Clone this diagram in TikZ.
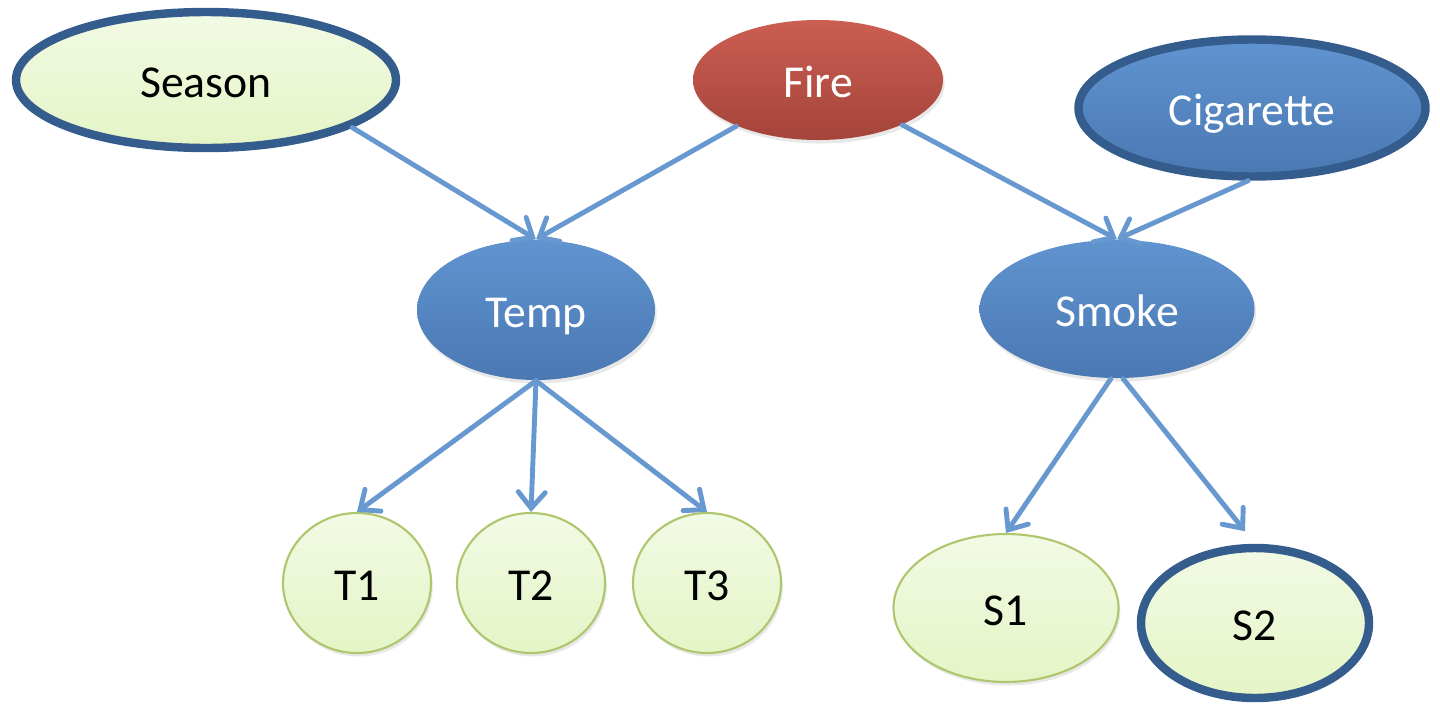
\documentclass[tikz,border=0pt]{standalone}
\usepackage{fontspec}
\setmainfont{Carlito}
\usetikzlibrary{shapes.geometric,arrows.meta,shadows}
\definecolor{leafA}{RGB}{242,250,228}
\definecolor{leafB}{RGB}{228,245,198}
\definecolor{leafline}{RGB}{175,198,110}
\definecolor{blueA}{RGB}{96,148,208}
\definecolor{blueB}{RGB}{74,120,178}
\definecolor{ringblue}{RGB}{52,92,140}
\definecolor{redA}{RGB}{204,94,82}
\definecolor{redB}{RGB}{164,68,58}
\definecolor{edgeblue}{RGB}{104,152,208}
\tikzset{
  var/.style={ellipse, inner sep=0pt, font=\fontsize{13}{15}\selectfont, text height=10pt, text depth=0pt,
    drop shadow={opacity=0.18, shadow xshift=0.5pt, shadow yshift=-1pt}},
  leaf/.style={var, draw=leafline, line width=0.6pt, top color=leafA, bottom color=leafB},
  hidden/.style={var, draw=none, top color=blueA, bottom color=blueB, text=white},
  fire/.style={var, draw=none, top color=redA, bottom color=redB, text=white},
  known/.style={line width=2.4pt, draw=ringblue},
  link/.style={edgeblue, line width=1.4pt, line cap=round,
    -{Straight Barb[length=0.16cm,width=0.27cm,line cap=round]}}
}
\begin{document}
\begin{tikzpicture}
        \useasboundingbox (0,0) rectangle (14.4,-7.04);
        \node[leaf, known, minimum width=3.80cm, minimum height=1.36cm] (season) at (2.06,-0.80) {Season};
        \node[fire, minimum width=2.50cm, minimum height=1.20cm] (fire) at (8.18,-0.80) {Fire};
        \node[hidden, known, minimum width=3.47cm, minimum height=1.37cm] (cig) at (12.52,-1.08) {Cigarette};
        \node[hidden, minimum width=2.38cm, minimum height=1.40cm] (temp) at (5.36,-3.10) {Temp};
        \node[hidden, minimum width=2.75cm, minimum height=1.38cm] (smoke) at (11.17,-3.09) {Smoke};
        \node[leaf, minimum width=1.48cm, minimum height=1.40cm] (t1) at (3.57,-5.83) {T1};
        \node[leaf, minimum width=1.48cm, minimum height=1.40cm] (t2) at (5.31,-5.83) {T2};
        \node[leaf, minimum width=1.48cm, minimum height=1.40cm] (t3) at (7.07,-5.83) {T3};
        \node[leaf, minimum width=2.25cm, minimum height=1.48cm] (s1) at (10.06,-6.08) {S1};
        \node[leaf, known, minimum width=2.28cm, minimum height=1.50cm] (s2) at (12.55,-6.23) {S2};

        \draw[link] (season.-18) -- (temp.north);
        \draw[link] (fire) -- (temp.north);
        \draw[link] (fire) -- (smoke.north);
        \draw[link] (cig.-93) -- (smoke.north);
        \foreach \c in {t1,t2,t3} \draw[link] (temp.south) -- (\c.north);
        \draw[link] (smoke.-95) -- (s1.north);
        \draw[link, shorten >=0.16cm] (smoke.-85) -- (s2.north);
    \end{tikzpicture}
\end{document}
